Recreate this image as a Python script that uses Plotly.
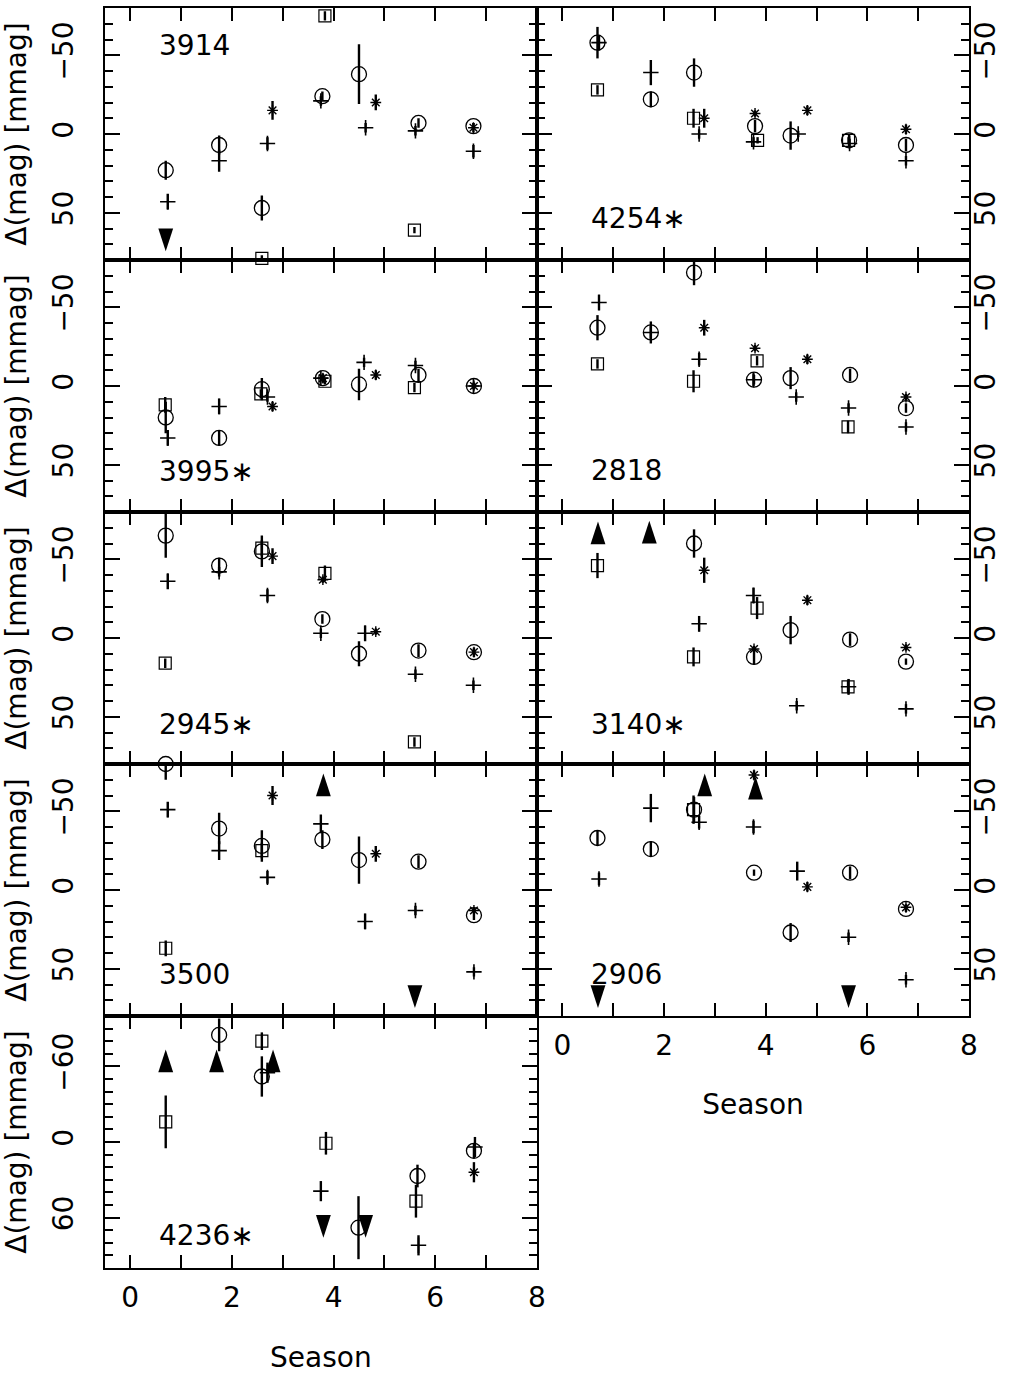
import plotly.graph_objects as go

# ---------------- data: (season, delta mag [mmag], error) ----------------
# panel 3914
P3914_CIRC = [(0.70, 23, 6), (1.75, 7, 6), (2.59, 47, 8), (3.78, -24, 3), (4.50, -38, 19), (5.67, -7, 3), (6.75, -5, 2)]
P3914_SQR = [(3.83, -75, 3), (2.59, 79, 2), (5.59, 61, 2)]
P3914_PLUS = [(0.74, 43, 5), (1.75, 17, 7), (2.70, 6, 4), (3.75, -21, 3), (4.63, -4, 3), (5.61, -2, 3), (6.75, 11, 4)]
P3914_AST = [(2.80, -15, 6), (4.83, -20, 5), (6.75, -4, 3)]
P3914_UP = []
P3914_DOWN = [(0.70, 74.5)]

# panel 4254*
P4254_CIRC = [(0.69, -58, 10), (1.74, -22, 5), (2.59, -39, 9), (3.79, -5, 4), (4.49, 1, 9), (5.64, 4, 4), (6.76, 7, 4)]
P4254_SQR = [(0.69, -28, 3), (2.58, -10, 6), (3.84, 4, 2), (5.63, 4, 2)]
P4254_PLUS = [(0.72, -58, 5), (1.74, -39, 8), (2.69, 0, 3), (3.76, 5, 3), (4.64, 0, 2), (5.65, 6, 3), (6.76, 17, 3)]
P4254_AST = [(2.79, -10, 6), (3.79, -13, 2), (4.82, -15, 3), (6.76, -3, 3)]
P4254_UP = []
P4254_DOWN = []

# panel 3995*
P3995_CIRC = [(0.70, 20, 10), (1.75, 33, 5), (2.59, 2, 7), (3.79, -5, 3), (4.50, -1, 10), (5.67, -7, 4), (6.76, 0, 2)]
P3995_SQR = [(0.69, 12, 5), (2.57, 5, 3), (3.83, -3, 2), (5.59, 1, 3)]
P3995_PLUS = [(0.74, 33, 5), (1.75, 13, 5), (2.70, 7, 3), (3.75, -5, 2), (4.60, -15, 3), (5.61, -13, 3), (6.75, 0, 2)]
P3995_AST = [(2.80, 13, 3), (3.79, -5, 2), (4.83, -7, 3), (6.76, 0, 2)]
P3995_UP = []
P3995_DOWN = []

# panel 2818
P2818_CIRC = [(0.69, -37, 8), (1.74, -34, 7), (2.59, -72, 8), (3.77, -4, 3), (4.49, -5, 7), (5.66, -7, 4), (6.76, 14, 3)]
P2818_SQR = [(0.69, -14, 3), (2.58, -3, 7), (3.83, -16, 3), (5.62, 26, 4)]
P2818_PLUS = [(0.72, -53, 5), (1.74, -34, 4), (2.69, -17, 4), (3.76, -4, 4), (4.60, 7, 3), (5.63, 14, 3), (6.76, 26, 3)]
P2818_AST = [(2.79, -37, 5), (3.79, -24, 2), (4.82, -17, 3), (6.76, 7, 2)]
P2818_UP = []
P2818_DOWN = []

# panel 2945*
P2945_CIRC = [(0.70, -65, 14), (1.75, -46, 5), (2.59, -55, 10), (3.78, -12, 3), (4.50, 10, 8), (5.67, 8, 4), (6.76, 9, 3)]
P2945_SQR = [(0.69, 16, 3), (2.59, -57, 5), (3.83, -41, 5), (5.59, 66, 3)]
P2945_PLUS = [(0.74, -36, 5), (1.75, -42, 3), (2.70, -27, 4), (3.75, -3, 3), (4.62, -3, 5), (5.61, 23, 3), (6.75, 30, 3)]
P2945_AST = [(2.80, -52, 5), (3.79, -37, 2), (4.83, -4, 2), (6.76, 9, 2)]
P2945_UP = []
P2945_DOWN = []

# panel 3140*
P3140_CIRC = [(2.59, -60, 9), (3.77, 12, 5), (4.49, -5, 9), (5.66, 1, 4), (6.76, 15, 2)]
P3140_SQR = [(0.69, -46, 8), (2.58, 12, 6), (3.83, -19, 7), (5.62, 31, 4)]
P3140_PLUS = [(2.69, -9, 5), (3.76, -27, 5), (4.61, 43, 3), (5.63, 31, 5), (6.76, 45, 3)]
P3140_AST = [(2.79, -43, 8), (3.77, 7, 2), (4.82, -24, 3), (6.76, 6, 2)]
P3140_UP = [(0.70, -74), (1.71, -74.5)]
P3140_DOWN = []

# panel 3500
P3500_CIRC = [(0.70, -80, 10), (1.75, -39, 10), (2.59, -28, 10), (3.78, -32, 6), (4.50, -19, 15), (5.67, -18, 4), (6.76, 16, 3)]
P3500_SQR = [(0.70, 37, 5), (2.59, -25, 5)]
P3500_PLUS = [(0.74, -51, 5), (1.75, -25, 6), (2.70, -8, 4), (3.75, -42, 6), (4.62, 20, 5), (5.61, 13, 3), (6.76, 52, 3)]
P3500_AST = [(2.80, -60, 6), (4.83, -23, 5), (6.76, 13, 2)]
P3500_UP = [(3.80, -74)]
P3500_DOWN = [(5.60, 75)]

# panel 2906
P2906_CIRC = [(0.69, -33, 5), (1.74, -26, 5), (2.59, -51, 8), (3.77, -11, 2), (4.49, 27, 6), (5.66, -11, 4), (6.76, 12, 2)]
P2906_SQR = [(2.58, -51, 9)]
P2906_PLUS = [(0.72, -7, 4), (1.74, -52, 9), (2.69, -43, 4), (3.76, -40, 4), (4.62, -12, 6), (5.63, 30, 3), (6.76, 57, 3)]
P2906_AST = [(3.77, -73, 3), (4.82, -2, 3), (6.76, 11, 2)]
P2906_UP = [(2.80, -74), (3.80, -72)]
P2906_DOWN = [(0.70, 75), (5.63, 75)]

# panel 4236*
P4236_CIRC = [(1.75, -85, 13), (2.59, -52, 16), (4.49, 68, 25), (5.65, 27, 9), (6.76, 7, 6)]
P4236_SQR = [(0.70, -16, 21), (2.59, -80, 7), (3.85, 1, 9), (5.62, 47, 13)]
P4236_PLUS = [(2.70, -55, 8), (3.75, 39, 8), (5.67, 82, 8), (6.78, 4, 8)]
P4236_AST = [(6.76, 24, 8)]
P4236_UP = [(0.70, -73.5), (1.70, -73.5), (2.81, -73.5)]
P4236_DOWN = [(3.80, 76), (4.63, 76)]

PANEL_NAMES = ["3914", "4254∗", "3995∗", "2818", "2945∗", "3140∗", "3500", "2906", "4236∗"]
X_TICKS = [0, 2, 4, 6, 8]

# ---------------- layout geometry ----------------
W, H = 1011, 1374
col_x = [(104.7, 537.0), (537.0, 969.0)]
row_y = [(8, 260), (260, 512), (512, 764), (764, 1016), (1016, 1268)]

panels = [
    (PANEL_NAMES[0], P3914_CIRC, P3914_SQR, P3914_PLUS, P3914_AST, P3914_UP, P3914_DOWN, 0, 0, 0.853),
    (PANEL_NAMES[1], P4254_CIRC, P4254_SQR, P4254_PLUS, P4254_AST, P4254_UP, P4254_DOWN, 1, 0, 0.165),
    (PANEL_NAMES[2], P3995_CIRC, P3995_SQR, P3995_PLUS, P3995_AST, P3995_UP, P3995_DOWN, 0, 1, 0.16),
    (PANEL_NAMES[3], P2818_CIRC, P2818_SQR, P2818_PLUS, P2818_AST, P2818_UP, P2818_DOWN, 1, 1, 0.165),
    (PANEL_NAMES[4], P2945_CIRC, P2945_SQR, P2945_PLUS, P2945_AST, P2945_UP, P2945_DOWN, 0, 2, 0.155),
    (PANEL_NAMES[5], P3140_CIRC, P3140_SQR, P3140_PLUS, P3140_AST, P3140_UP, P3140_DOWN, 1, 2, 0.155),
    (PANEL_NAMES[6], P3500_CIRC, P3500_SQR, P3500_PLUS, P3500_AST, P3500_UP, P3500_DOWN, 0, 3, 0.163),
    (PANEL_NAMES[7], P2906_CIRC, P2906_SQR, P2906_PLUS, P2906_AST, P2906_UP, P2906_DOWN, 1, 3, 0.163),
    (PANEL_NAMES[8], P4236_CIRC, P4236_SQR, P4236_PLUS, P4236_AST, P4236_UP, P4236_DOWN, 0, 4, 0.13),
]

FONT = "DejaVu Sans"
BLACK = "black"

fig = go.Figure()
layout = dict(
    width=W, height=H, margin=dict(l=0, r=0, t=0, b=0),
    paper_bgcolor="white", plot_bgcolor="white", showlegend=False,
    font=dict(family=FONT, size=28, color=BLACK),
)
annotations = []

def add_series(pts, symbol, size, lw, xa, ya):
    if not pts:
        return
    fig.add_trace(go.Scatter(
        x=[p[0] for p in pts], y=[p[1] for p in pts],
        mode="markers", xaxis=xa, yaxis=ya, cliponaxis=False,
        marker=dict(symbol=symbol, size=size, color=BLACK,
                    line=dict(color=BLACK, width=lw)),
        error_y=dict(type="data", array=[p[2] for p in pts], visible=True,
                     color=BLACK, thickness=2.4, width=0),
        hoverinfo="skip",
    ))

def add_arrows(pts, angle, xa, ya):
    if not pts:
        return
    fig.add_trace(go.Scatter(
        x=[p[0] for p in pts], y=[p[1] for p in pts],
        mode="markers", xaxis=xa, yaxis=ya, cliponaxis=False,
        marker=dict(symbol="arrow", size=24, angle=angle, color=BLACK,
                    line=dict(width=0)),
        hoverinfo="skip",
    ))

for i, (name, circ, sqr, plus, ast, up, down, col, row, ly) in enumerate(panels):
    n = i + 1
    sfx = "" if n == 1 else str(n)
    xa, ya = f"x{sfx}", f"y{sfx}"
    xk, yk = f"xaxis{sfx}", f"yaxis{sfx}"
    x0, x1 = col_x[col]
    y0, y1 = row_y[row]
    last = row == 4
    bottom_of_col = (col == 0 and row == 4) or (col == 1 and row == 3)

    add_series(sqr, "square-open", 12, 1.2, xa, ya)
    add_series(circ, "circle-open", 15, 1.3, xa, ya)
    add_series(plus, "cross-thin-open", 11, 1.6, xa, ya)
    add_series(ast, "asterisk-open", 9, 1.4, xa, ya)
    add_arrows(up, 0, xa, ya)
    add_arrows(down, 180, xa, ya)

    xaxis = dict(
        domain=[x0 / W, x1 / W], anchor=ya, range=[-0.5, 8],
        tickmode="array", tickvals=X_TICKS, ticks="inside", ticklen=13,
        tickwidth=2, tickcolor=BLACK,
        minor=dict(dtick=1, tick0=0, ticks="inside", ticklen=13, tickwidth=2, tickcolor=BLACK),
        showline=True, linewidth=2.4, linecolor=BLACK, mirror="allticks",
        showgrid=False, zeroline=False, automargin=False,
        showticklabels=bottom_of_col, ticklabelstandoff=3,
        tickfont=dict(family=FONT, size=28, color=BLACK),
    )
    if bottom_of_col:
        xaxis["title"] = dict(text="Season", standoff=44 if col == 0 else 34,
                              font=dict(family=FONT, size=28, color=BLACK))
    layout[xk] = xaxis

    if last:
        yr, dt = [100, -100], 60
    else:
        yr, dt = [80, -80], 50
    yaxis = dict(
        domain=[1 - y1 / H, 1 - y0 / H], anchor=xa, range=yr,
        tickmode="linear", tick0=0, dtick=dt, ticks="inside", ticklen=15,
        tickwidth=2, tickcolor=BLACK,
        minor=dict(dtick=10, tick0=0, ticks="inside", ticklen=8, tickwidth=2, tickcolor=BLACK),
        showline=True, linewidth=2.4, linecolor=BLACK, mirror="allticks",
        showgrid=False, zeroline=False, automargin=False,
        tickangle=-90, side="left" if col == 0 else "right",
        ticklabelstandoff=18 if col == 0 else -10,
        tickfont=dict(family=FONT, size=28, color=BLACK),
    )
    if col == 0:
        yaxis["title"] = dict(text="Δ(mag) [mmag]", standoff=12,
                              font=dict(family=FONT, size=28, color=BLACK))
    layout[yk] = yaxis

    annotations.append(dict(
        text=name, xref=f"{xa} domain", yref=f"{ya} domain",
        x=0.121, y=ly, xanchor="left", yanchor="middle", showarrow=False,
        font=dict(family=FONT, size=28, color=BLACK),
    ))

layout["annotations"] = annotations
fig.update_layout(**layout)
fig.write_html("out.html")
